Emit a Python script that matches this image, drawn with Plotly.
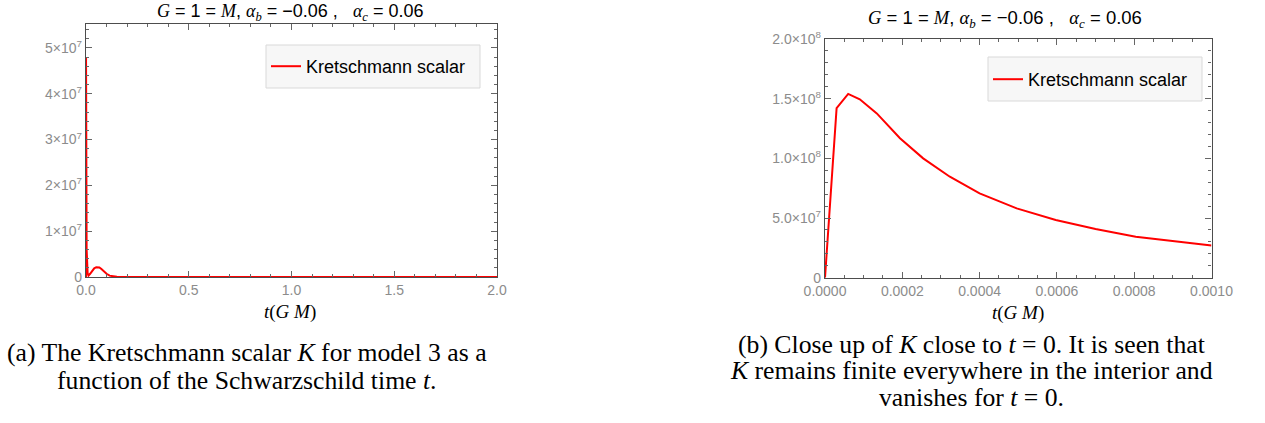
import plotly.graph_objects as go
import numpy as np

# ---- data ----
t_a = [0, 0.0002, 0.003, 0.008, 0.012, 0.02, 0.03, 0.04, 0.05, 0.057, 0.065, 0.075,
       0.085, 0.1, 0.115, 0.13, 0.15, 0.2, 0.5, 1.0, 1.5, 2.0]
K_a = [0, 4.8e7, 6e6, 8e5, 3e5, 7e5, 1.4e6, 1.9e6, 2.15e6, 2.2e6, 2.1e6, 1.75e6,
       1.3e6, 7e5, 3e5, 1.2e5, 4e4, 1e4, 0, 0, 0, 0]

t_b = [0, 3.0e-5, 6.0e-5, 9.0e-5, 1.34e-4, 1.94e-4, 2.54e-4, 3.23e-4, 4.0e-4, 4.96e-4,
       5.97e-4, 7.0e-4, 8.04e-4, 9.08e-4, 1.0e-3]
K_b = [0, 1.42e8, 1.54e8, 1.495e8, 1.377e8, 1.168e8, 1.0e8, 8.46e7, 7.07e7, 5.81e7,
       4.83e7, 4.08e7, 3.44e7, 3.02e7, 2.70e7]

xa_ticks = [0, 0.5, 1.0, 1.5, 2.0]
xa_labels = ["0.0", "0.5", "1.0", "1.5", "2.0"]
ya_ticks = [0, 1e7, 2e7, 3e7, 4e7, 5e7]
ya_labels = ["0", "1×10<sup>7</sup>", "2×10<sup>7</sup>", "3×10<sup>7</sup>",
             "4×10<sup>7</sup>", "5×10<sup>7</sup>"]
xb_ticks = [0, 0.0002, 0.0004, 0.0006, 0.0008, 0.0010]
xb_labels = ["0.0000", "0.0002", "0.0004", "0.0006", "0.0008", "0.0010"]
yb_ticks = [0, 5e7, 1e8, 1.5e8, 2e8]
yb_labels = ["0", "5.0×10<sup>7</sup>", "1.0×10<sup>8</sup>", "1.5×10<sup>8</sup>",
             "2.0×10<sup>8</sup>"]

series_name = "Kretschmann scalar"
caption_a = ["(a) The Kretschmann scalar <i>K</i> for model 3 as a",
             "function of the Schwarzschild time <i>t</i>."]
caption_b = ["(b) Close up of <i>K</i> close to <i>t</i> = 0. It is seen that",
             "<i>K</i> remains finite everywhere in the interior and",
             "vanishes for <i>t</i> = 0."]

W, H = 1265, 423

def px(x):
    return x / W

def py(y):
    return 1 - y / H

fig = go.Figure()
fig.add_trace(go.Scatter(x=t_a, y=K_a, mode="lines", name=series_name,
                         line=dict(color="#ff0000", width=2), xaxis="x", yaxis="y",
                         legend="legend", cliponaxis=False))
fig.add_trace(go.Scatter(x=t_b, y=K_b, mode="lines", name=series_name,
                         line=dict(color="#ff0000", width=2), xaxis="x2", yaxis="y2",
                         legend="legend2", cliponaxis=False))

tick_font = dict(family="Liberation Sans, Arial", size=14, color="#8c8c8c")
common = dict(showgrid=False, zeroline=False, showline=True, linecolor="#4d4d4d",
              linewidth=1.4, mirror="ticks", ticks="inside", ticklen=6,
              tickcolor="#666666", tickwidth=1, tickfont=tick_font, tickmode="array",
              automargin=False)

fig.update_layout(
    width=W, height=H, margin=dict(l=0, r=0, t=0, b=0, autoexpand=False),
    paper_bgcolor="white", plot_bgcolor="white", showlegend=True,
    xaxis=dict(domain=[px(86), px(497)], range=[0, 2], anchor="y",
               tickvals=xa_ticks, ticktext=xa_labels,
               minor=dict(tickvals=list(np.round(np.arange(0, 2.01, 0.1), 3)),
                          ticks="inside", ticklen=3, tickcolor="#666666"),
               **common),
    yaxis=dict(domain=[py(277), py(24)], range=[0, 5.52e7], anchor="x",
               tickvals=ya_ticks, ticktext=ya_labels,
               minor=dict(tickvals=list(np.arange(0, 5.6e7, 2e6)),
                          ticks="inside", ticklen=3, tickcolor="#666666"),
               **common),
    xaxis2=dict(domain=[px(825), px(1211.5)], range=[0, 0.001], anchor="y2",
                tickvals=xb_ticks, ticktext=xb_labels,
                minor=dict(tickvals=list(np.arange(0, 0.00101, 0.00005)),
                           ticks="inside", ticklen=3, tickcolor="#666666"),
                **common),
    yaxis2=dict(domain=[py(277.7), py(39)], range=[0, 2e8], anchor="x2",
                tickvals=yb_ticks, ticktext=yb_labels,
                minor=dict(tickvals=list(np.arange(0, 2.01e8, 1e7)),
                           ticks="inside", ticklen=3, tickcolor="#666666"),
                **common),
    legend=dict(x=px(266), y=py(66.5), xanchor="left", yanchor="middle",
                bgcolor="rgba(0,0,0,0)", borderwidth=0,
                font=dict(family="Liberation Sans, Arial", size=18, color="black")),
    legend2=dict(x=px(988), y=py(79.5), xanchor="left", yanchor="middle",
                 bgcolor="rgba(0,0,0,0)", borderwidth=0,
                 font=dict(family="Liberation Sans, Arial", size=18, color="black")),
)

# legend frames
for (x0, y0, x1, y1) in [(266, 45, 480, 88), (988, 57, 1202, 101)]:
    fig.add_shape(type="rect", xref="paper", yref="paper",
                  x0=px(x0), x1=px(x1), y0=py(y1), y1=py(y0),
                  fillcolor="#f7f7f7", line=dict(color="#d9d9d9", width=1), layer="above")

serif = "font-family:Liberation Serif"
title = (f"<span style='{serif}'><i>G</i></span> = 1 = <span style='{serif}'><i>M</i></span>, "
         f"<span style='{serif}'><i>α<sub>b</sub></i></span> = −0.06 ,   "
         f"<span style='{serif}'><i>α<sub>c</sub></i></span> = 0.06")
for xc, yc, fs in [(290, 12.5, 18), (1005, 18.5, 18.5)]:
    fig.add_annotation(text=title, xref="paper", yref="paper", x=px(xc), y=py(yc),
                       xanchor="center", yanchor="middle", showarrow=False,
                       font=dict(family="Liberation Sans, Arial", size=fs, color="black"))

for xc, yc in [(290, 312), (1018, 313)]:
    fig.add_annotation(text="<i>t</i>(<i>G M</i>)", xref="paper", yref="paper",
                       x=px(xc), y=py(yc), xanchor="center", yanchor="middle",
                       showarrow=False,
                       font=dict(family="Liberation Serif", size=19, color="black"))

for line, yc in zip(caption_a, [352, 380.5]):
    fig.add_annotation(text=line, xref="paper", yref="paper", x=px(247), y=py(yc),
                       xanchor="center", yanchor="middle", showarrow=False,
                       font=dict(family="Liberation Serif", size=25.7, color="black"))
for line, yc in zip(caption_b, [344, 370.5, 397]):
    fig.add_annotation(text=line, xref="paper", yref="paper", x=px(971), y=py(yc),
                       xanchor="center", yanchor="middle", showarrow=False,
                       font=dict(family="Liberation Serif", size=25.7, color="black"))

# remove the browser's default 8px body margin so the figure fills the window
fig.write_html("out.html", config={"displayModeBar": False},
               post_script="document.body.style.margin='0px';")
